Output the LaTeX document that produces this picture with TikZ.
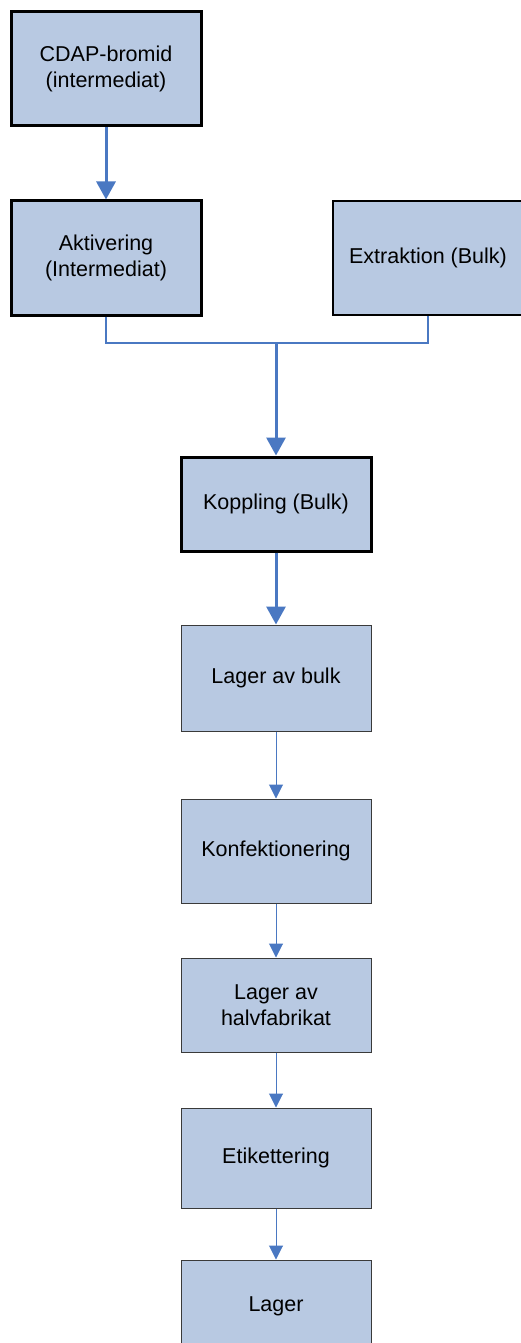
\documentclass[tikz,border=0pt]{standalone}
\usepackage{fontspec}
\setmainfont{Liberation Sans}
\usetikzlibrary{arrows.meta}
\definecolor{boxfill}{HTML}{B8C9E2}
\definecolor{flowblue}{HTML}{4A78C2}
\definecolor{thinedge}{HTML}{3A3A3A}
\tikzset{
  stage/.style={rectangle, fill=boxfill, minimum width=190pt, align=center,
    font=\fontsize{21.5}{25.5}\selectfont, inner sep=0pt},
  heavybox/.style={stage, draw=black, line width=3pt},
  lightbox/.style={stage, draw=thinedge, line width=1pt},
  heavyflow/.style={draw=flowblue, line width=3pt,
    -{Triangle[width=19pt,length=18pt]}},
  lightflow/.style={draw=flowblue, line width=1pt,
    -{Triangle[width=14pt,length=14pt]}},
  joinline/.style={draw=flowblue, line width=2.6pt}
}
\begin{document}
\begin{tikzpicture}[x=1pt,y=-1pt]
\useasboundingbox (0,0) rectangle (521,1343);
\clip (0,0) rectangle (521,1343);

% upstream steps
\node[heavybox, minimum height=114pt] (cdap) at (106,69) {CDAP-bromid\\(intermediat)};
\node[heavybox, minimum height=114pt] (akt) at (106,258) {Aktivering\\(Intermediat)};
\node[stage, draw=black, line width=2.4pt, minimum height=114pt] (ext) at (428,258) {Extraktion (Bulk)};
\node[heavybox, minimum height=94pt] (kop) at (276,504) {Koppling (Bulk)};

% downstream steps
\node[lightbox, minimum height=106pt] (bulk) at (276,678) {Lager av bulk};
\node[lightbox, minimum height=104pt] (konf) at (276,851) {Konfektionering};
\node[lightbox, minimum height=94pt] (halv) at (276,1005) {Lager av\\halvfabrikat};
\node[lightbox, minimum height=100pt] (etik) at (276,1158) {Etikettering};
\node[lightbox, minimum height=92pt] (lager) at (276,1306) {Lager};

% merge of the two input branches
\coordinate (jl) at (106,343);
\coordinate (jr) at (428,343);
\coordinate (jm) at (276,343);

\draw[heavyflow] (cdap.south) -- (akt.north);
\draw[joinline] (akt.south) -- (jl) -- (jr) -- (ext.south);
\draw[heavyflow] (jm) -- (kop.north);
\draw[heavyflow] (kop.south) -- (bulk.north);
\draw[lightflow] (bulk.south) -- (konf.north);
\draw[lightflow] (konf.south) -- (halv.north);
\draw[lightflow] (halv.south) -- (etik.north);
\draw[lightflow] (etik.south) -- (lager.north);
\end{tikzpicture}
\end{document}
